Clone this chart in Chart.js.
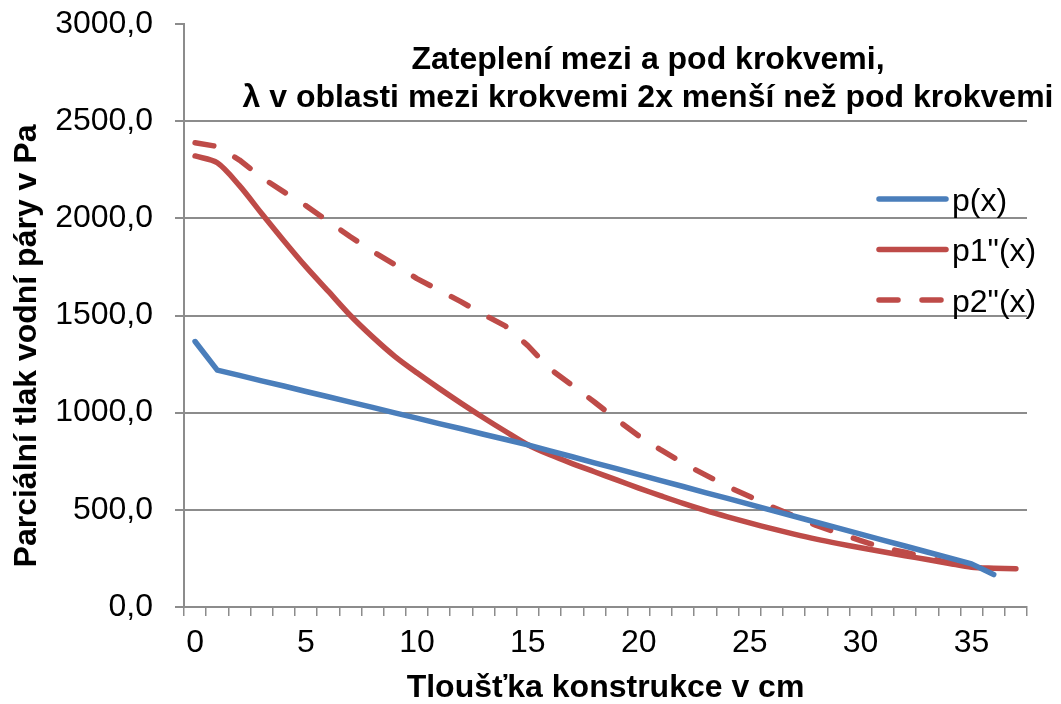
<!DOCTYPE html>
<html>
<head>
<meta charset="utf-8">
<script src="https://cdn.jsdelivr.net/npm/chart.js@4.4.1/dist/chart.umd.min.js"></script>
<style>
  html, body { margin: 0; padding: 0; background: #fff; }
  #wrap { width: 1061px; height: 704px; position: relative; }
</style>
</head>
<body>
<div id="wrap"><canvas id="c" width="1061" height="704"></canvas></div>
<script>
const categories = [0,1,2,3,4,5,6,7,8,9,10,11,12,13,14,15,16,17,18,19,20,21,22,23,24,25,26,27,28,29,30,31,32,33,34,35,36,37];
const seriesNames = ['p(x)', 'p1"(x)', 'p2"(x)'];
const pValues = [1366,1219,1192,1164,1137,1109,1082,1054,1027,999,972,944,917,889,862,834,803,773,742,712,681,650,620,589,559,528,497,467,436,406,375,344,314,283,253,222,167];
const p1Values = [2321,2286,2168,2025,1885,1750,1625,1500,1390,1290,1205,1125,1048,974,903,835,783,738,696,654,612,572,533,497,464,433,403,375,349,326,305,284,264,244,224,205,200,197];
const p2Values = [2389,2370,2300,2210,2136,2065,1985,1905,1830,1762,1690,1630,1570,1505,1445,1345,1225,1140,1055,965,880,808,740,680,620,568,515,468,420,380,342,305,282,253,228,200];
const yTicks = [0,500,1000,1500,2000,2500,3000];
const xLabelStep = 5;
const titleLines = ['Zateplení mezi a pod krokvemi,', 'λ v oblasti mezi krokvemi 2x menší než pod krokvemi'];
const xTitle = 'Tloušťka konstrukce v cm';
const yTitle = 'Parciální tlak vodní páry v Pa';

const FONT = '"Liberation Sans", Arial, sans-serif';
const BLUE = '#4A7EBB';
const RED = '#BE4B48';
const GRID = '#8c8c8c';
const DASH = [19, 24];

const overlay = {
  id: 'overlay',
  afterDraw(chart) {
    const ctx = chart.ctx;
    ctx.save();
    ctx.fillStyle = '#000';
    ctx.font = 'bold 32px ' + FONT;
    ctx.textAlign = 'center';
    ctx.textBaseline = 'middle';
    titleLines.forEach((t, i) => ctx.fillText(t, 648, 60 + i * 38));
    ctx.save();
    ctx.translate(27, 346);
    ctx.rotate(-Math.PI / 2);
    ctx.fillText(yTitle, 0, 0);
    ctx.restore();
    chart.data.datasets.forEach((ds, i) => {
      const y = 199 + i * 50.5;
      ctx.strokeStyle = ds.borderColor;
      ctx.lineWidth = ds.borderWidth;
      ctx.lineCap = 'round';
      ctx.setLineDash(ds.borderDash || []);
      ctx.beginPath();
      ctx.moveTo(879, y);
      ctx.lineTo(946, y);
      ctx.stroke();
      ctx.setLineDash([]);
      ctx.font = '32px ' + FONT;
      ctx.textAlign = 'left';
      ctx.fillStyle = '#000';
      ctx.fillText(ds.label, 952, y + 3);
    });
    ctx.restore();
  }
};

new Chart(document.getElementById('c'), {
  type: 'line',
  data: {
    labels: categories,
    datasets: [
      { label: seriesNames[0], data: pValues, borderColor: BLUE, borderWidth: 5.5, pointRadius: 0, tension: 0, borderCapStyle: 'round', borderJoinStyle: 'round', fill: false },
      { label: seriesNames[1], data: p1Values, borderColor: RED, borderWidth: 5.5, pointRadius: 0, tension: 0.3, borderCapStyle: 'round', borderJoinStyle: 'round', fill: false },
      { label: seriesNames[2], data: p2Values, borderColor: RED, borderWidth: 5.5, pointRadius: 0, tension: 0, borderDash: DASH, borderCapStyle: 'round', borderJoinStyle: 'round', fill: false }
    ]
  },
  options: {
    responsive: false,
    animation: false,
    devicePixelRatio: 1,
    layout: { padding: { top: 24, right: 34, left: 0, bottom: 0 } },
    plugins: { legend: { display: false }, title: { display: false }, tooltip: { enabled: false } },
    scales: {
      x: {
        type: 'category',
        offset: true,
        afterFit(scale) { scale.height = 97; },
        grid: { offset: true, drawOnChartArea: false, drawTicks: true, tickLength: 9, color: GRID, lineWidth: 1.5 },
        border: { display: true, color: GRID, width: 2 },
        ticks: {
          autoSkip: false, maxRotation: 0, minRotation: 0, padding: 8,
          color: '#000', font: { family: FONT, size: 32 },
          callback(v, i) { return i % xLabelStep === 0 ? String(categories[i]) : ''; }
        },
        title: { display: true, text: xTitle, color: '#000', font: { family: FONT, size: 32, weight: 'bold', lineHeight: 1.0 }, padding: { top: 0, bottom: 0 } }
      },
      y: {
        min: 0, max: 3000,
        afterFit(scale) { scale.width = 184; scale.paddingTop = 0; scale.paddingBottom = 0; },
        afterBuildTicks(scale) { scale.ticks = yTicks.map(v => ({ value: v })); },
        grid: {
          color: ctx => (ctx.tick && ctx.tick.value === 3000) ? 'rgba(0,0,0,0)' : GRID,
          tickColor: GRID, lineWidth: 2, tickLength: 9, drawTicks: true
        },
        border: { display: true, color: GRID, width: 2 },
        ticks: {
          padding: 22, color: '#000', font: { family: FONT, size: 32 },
          callback(v) { return v.toFixed(1).replace('.', ','); }
        },
        title: { display: false }
      }
    }
  },
  plugins: [overlay]
});
</script>
</body>
</html>
